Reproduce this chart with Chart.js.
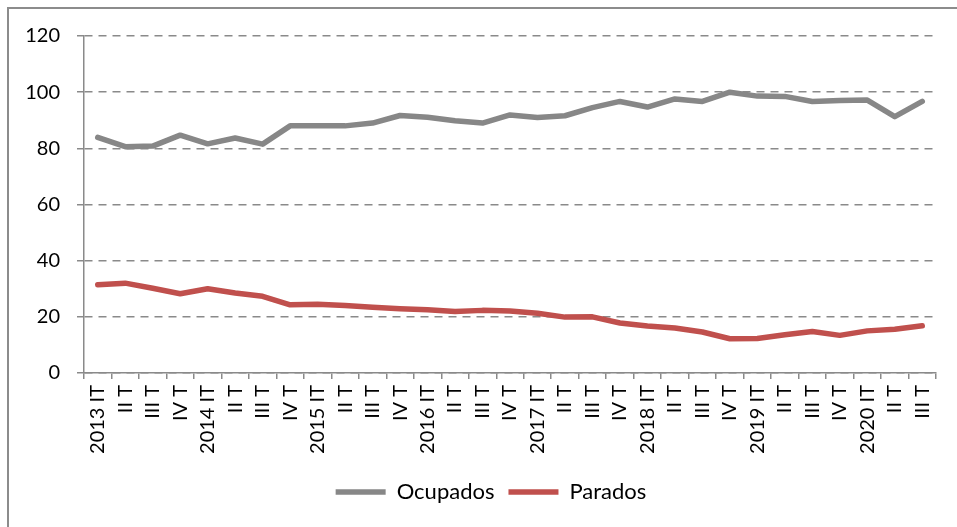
<!DOCTYPE html>
<html>
<head>
<meta charset="utf-8">
<script src="https://cdn.jsdelivr.net/npm/chart.js@4.4.1/dist/chart.umd.min.js"></script>
<style>
  html, body { margin: 0; padding: 0; background: #fff; }
  #wrap { position: relative; width: 957px; height: 527px; overflow: hidden; }
  #frame { position: absolute; left: 7px; top: 7px; width: 980px; height: 560px;
           border-left: 2px solid #8c8c8c; border-top: 2px solid #8c8c8c; }
  #c { position: absolute; left: 0; top: 0; }
</style>
</head>
<body>
<div id="wrap">
  <div id="frame"></div>
  <canvas id="c" width="957" height="527"></canvas>
</div>
<script>
const quarters = [
  '2013 IT', 'II T', 'III T', 'IV T',
  '2014 IT', 'II T', 'III T', 'IV T',
  '2015 IT', 'II T', 'III T', 'IV T',
  '2016 IT', 'II T', 'III T', 'IV T',
  '2017 IT', 'II T', 'III T', 'IV T',
  '2018 IT', 'II T', 'III T', 'IV T',
  '2019 IT', 'II T', 'III T', 'IV T',
  '2020 IT', 'II T', 'III T'
];

const ocupados = [
  83.9, 80.6, 80.8, 84.7, 81.6, 83.7, 81.5, 88.0,
  88.0, 88.0, 89.0, 91.7, 91.1, 89.8, 89.0, 91.9,
  91.0, 91.6, 94.5, 96.7, 94.7, 97.6, 96.7, 100.0,
  98.6, 98.5, 96.7, 97.0, 97.2, 91.3, 96.7
];

const parados = [
  31.4, 32.0, 30.2, 28.2, 30.0, 28.5, 27.3, 24.3,
  24.5, 24.0, 23.4, 22.9, 22.5, 21.9, 22.3, 22.1,
  21.3, 19.9, 20.0, 17.8, 16.7, 16.0, 14.6, 12.2,
  12.3, 13.6, 14.8, 13.4, 15.0, 15.6, 16.8
];

const yTicks = [0, 20, 40, 60, 80, 100, 120];

const grey = '#878787';
const red = '#c0504d';
const axisGrey = '#8a8a8a';
const font = { family: 'Lato, "Liberation Sans", sans-serif', size: 20 };
const legendFont = { family: 'Lato, "Liberation Sans", sans-serif', size: 22 };

Chart.defaults.font = font;
Chart.defaults.color = '#000';

// legend in the reference sits a bit right of the canvas centre
const legendShift = {
  id: 'legendShift',
  afterLayout(chart) {
    chart.legend.left += 46;
  }
};

new Chart(document.getElementById('c'), {
  type: 'line',
  data: {
    labels: quarters,
    datasets: [
      { label: 'Ocupados', data: ocupados, borderColor: grey, backgroundColor: grey,
        borderWidth: 5.5, pointRadius: 0, tension: 0, borderCapStyle: 'round', borderJoinStyle: 'round' },
      { label: 'Parados', data: parados, borderColor: red, backgroundColor: red,
        borderWidth: 5.5, pointRadius: 0, tension: 0, borderCapStyle: 'round', borderJoinStyle: 'round' }
    ]
  },
  plugins: [legendShift],
  options: {
    responsive: false,
    animation: false,
    layout: { padding: { left: 0, right: 21, top: 36, bottom: 14 } },
    plugins: {
      tooltip: { enabled: false },
      legend: {
        position: 'bottom',
        labels: {
          usePointStyle: true,
          pointStyle: 'line',
          pointStyleWidth: 50,
          boxHeight: 20,
          padding: 14,
          font: legendFont,
          color: '#000'
        }
      }
    },
    scales: {
      x: {
        offset: true,
        grid: { offset: true, drawOnChartArea: false, drawTicks: true, tickLength: 6,
                color: axisGrey, tickColor: axisGrey, lineWidth: 1.5 },
        border: { display: true, color: axisGrey, width: 1.5 },
        ticks: { maxRotation: 90, minRotation: 90, autoSkip: false, padding: 6, font: font, color: '#000' },
        afterFit: s => { s.height = 94; }
      },
      y: {
        min: 0,
        max: 120,
        afterBuildTicks: s => { s.ticks = yTicks.map(v => ({ value: v })); },
        grid: { color: axisGrey, lineWidth: 1.5, tickLength: 7, tickColor: axisGrey,
                tickBorderDash: [], tickWidth: 1.5 },
        border: { display: true, color: axisGrey, width: 1.5, dash: [8, 6] },
        ticks: { padding: 17, font: font, color: '#000' },
        afterFit: s => { s.width = 84; }
      }
    }
  }
});
</script>
</body>
</html>
